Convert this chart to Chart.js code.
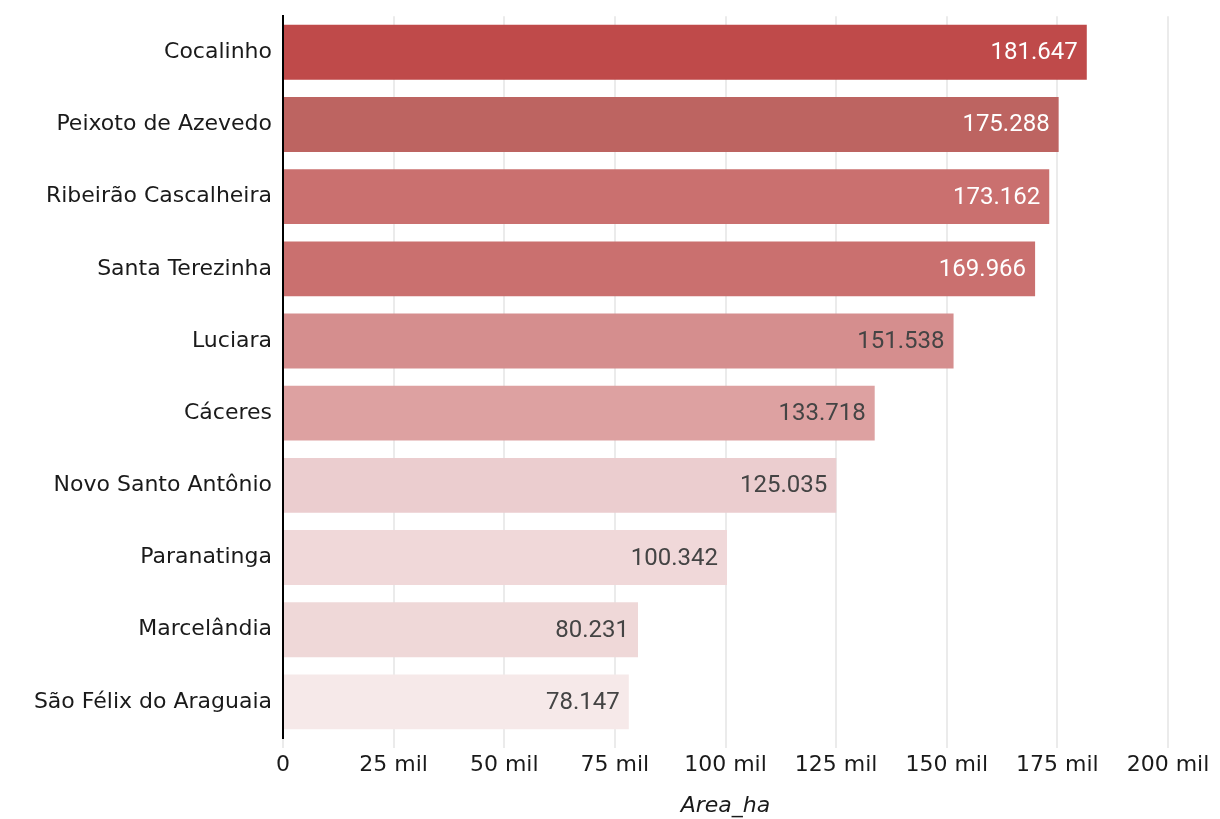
<!DOCTYPE html>
<html>
<head>
<meta charset="utf-8">
<script src="https://cdn.jsdelivr.net/npm/chart.js@4.4.1/dist/chart.umd.min.js"></script>
<style>
  html, body { margin: 0; padding: 0; background: #fff; }
  canvas { display: block; }
</style>
</head>
<body>
<canvas id="grafico" width="1220" height="819"></canvas>
<script>
// dados
const municipios = ["Cocalinho", "Peixoto de Azevedo", "Ribeirão Cascalheira", "Santa Terezinha", "Luciara",
    "Cáceres", "Novo Santo Antônio", "Paranatinga", "Marcelândia", "São Félix do Araguaia"];
const areaHa = [181647, 175288, 173162, 169966, 151538, 133718, 125035, 100342, 80231, 78147];
const ticksX = [0, 25000, 50000, 75000, 100000, 125000, 150000, 175000, 200000];

const coresBarras = ["#bf4a4a", "#bd6461", "#ca706f", "#ca706f", "#d58e8e",
    "#dda1a1", "#ebcdcf", "#f0d8d9", "#efd8d8", "#f6e9e9"];
const coresRotulo = ["#ffffff", "#ffffff", "#ffffff", "#ffffff", "#444444",
    "#444444", "#444444", "#444444", "#444444", "#444444"];

const fonteTexto = "'DejaVu Sans', 'Open Sans', sans-serif";

function formatarNumero(v) {
    return v.toLocaleString("pt-BR");
}

// rótulos dentro das barras
const rotulosBarras = {
    id: "rotulosBarras",
    afterDatasetsDraw(chart) {
        const ctx = chart.ctx;
        const meta = chart.getDatasetMeta(0);
        ctx.save();
        ctx.font = "24px Roboto, sans-serif";
        ctx.textAlign = "right";
        ctx.textBaseline = "middle";
        meta.data.forEach((barra, i) => {
            ctx.fillStyle = coresRotulo[i];
            ctx.fillText(formatarNumero(areaHa[i]), barra.x - 9, barra.y + 1);
        });
        ctx.restore();
    }
};

const ctx = document.getElementById("grafico").getContext("2d");
new Chart(ctx, {
    type: "bar",
    data: {
        labels: municipios,
        datasets: [{
            data: areaHa,
            backgroundColor: coresBarras,
            borderWidth: 0,
            barPercentage: 0.76,
            categoryPercentage: 1
        }]
    },
    options: {
        indexAxis: "y",
        responsive: false,
        animation: false,
        layout: { padding: { top: -3, right: 52, left: 0, bottom: 0 } },
        plugins: {
            legend: { display: false },
            tooltip: { enabled: false }
        },
        scales: {
            x: {
                min: 0,
                max: 200000,
                afterBuildTicks: (scale) => { scale.ticks = ticksX.map(v => ({ value: v })); },
                afterFit: (scale) => { scale.height = 81; },
                border: { display: false },
                grid: { color: "#ebebeb", lineWidth: 2, tickLength: 10, drawTicks: true },
                ticks: {
                    color: "#1a1a1a",
                    font: { family: fonteTexto, size: 22 },
                    padding: 4,
                    maxRotation: 0,
                    callback: (v) => v === 0 ? "0" : (v / 1000) + " mil"
                },
                title: {
                    display: true,
                    text: "Area_ha",
                    color: "#1a1a1a",
                    font: { family: fonteTexto, size: 22, style: "italic" },
                    padding: { top: 2, bottom: 0 }
                }
            },
            y: {
                afterFit: (scale) => { scale.width = 283; },
                border: { display: true, color: "#000", width: 2 },
                grid: { display: false },
                ticks: {
                    color: "#1a1a1a",
                    font: { family: fonteTexto, size: 22 },
                    padding: 3
                }
            }
        }
    },
    plugins: [rotulosBarras]
});
</script>
</body>
</html>
